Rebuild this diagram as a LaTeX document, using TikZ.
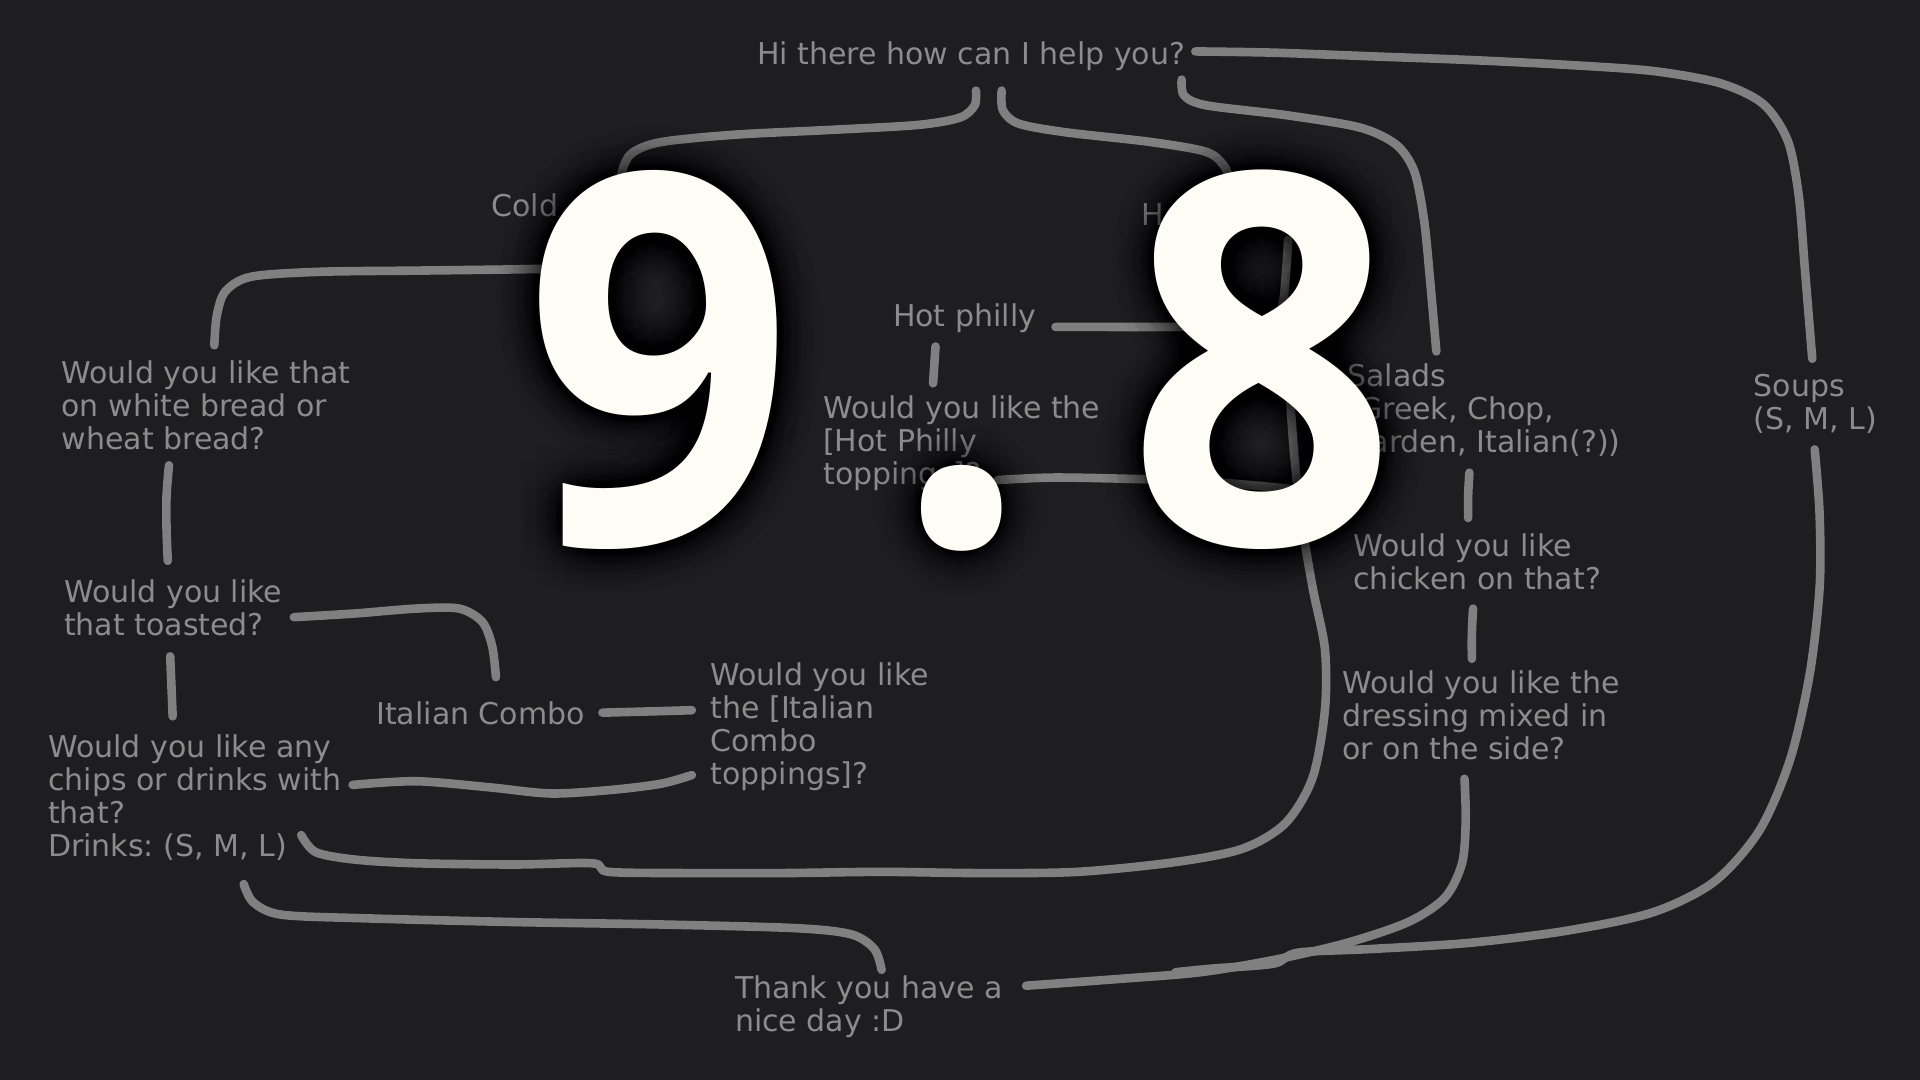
\documentclass[tikz,border=0pt]{standalone}
\usepackage{fontspec}
\setmainfont{DejaVu Sans}
\newfontfamily\digitfont{Open Sans}
\usetikzlibrary{calc}
\definecolor{boardbg}{RGB}{30,30,32}
\definecolor{chalkline}{RGB}{128,128,128}
\definecolor{chalktext}{RGB}{140,140,140}
\definecolor{scorewhite}{RGB}{253,253,245}
\frenchspacing

\begin{document}
\begin{tikzpicture}[
    x=0.6122pt, y=-0.6122pt,
    label node/.style={text=chalktext, font=\fontsize{15}{16.5}\selectfont, align=left, anchor=west, inner sep=0pt},
    stroke line/.style={draw=chalkline, line width=4.3pt, line cap=round, line join=round},
    score digit/.style={text=scorewhite, font=\digitfont\bfseries\fontsize{259}{259}\selectfont, anchor=base, inner sep=0pt},
    score shadow/.style={score digit, text=black, opacity=0.025}
]

%================CONFIGURATION================
\def\scorebase{445} % baseline of the big score
\def\scorenarrow{0.91} % horizontal squeeze of the score glyphs
\def\shadowstep{6}  % spacing of the shadow rings
%=============================================

% background
\fill[boardbg] (0,0) rectangle (1568,882);
\useasboundingbox (0,0) rectangle (1568,882);

% --- 1. Question nodes ---
\node[label node] (hello) at (618,46) {Hi there how can I help you?};
\node[label node] (cold) at (401,168) {Cold};
\node[label node] (hot) at (932,175) {H};
\node[label node] (philly) at (729,260) {Hot philly};
\node[label node] (phtop) at (672,362) {Would you like the\\{[}Hot Philly\\toppings]?};
\node[label node] (salads) at (1100,334.5) {Salads\\(Greek, Chop,\\Garden, Italian(?))};
\node[label node] (soups) at (1432,329.5) {Soups\\(S, M, L)};
\node[label node] (bread) at (50,331) {Would you like that\\on white bread or\\wheat bread?};
\node[label node] (toast) at (52,496.5) {Would you like\\that toasted?};
\node[label node] (chips) at (39,651.5) {Would you like any\\chips or drinks with\\that?\\Drinks: (S, M, L)};
\node[label node] (italian) at (307,582.5) {Italian Combo};
\node[label node] (ittop) at (580,593.5) {Would you like\\the {[}Italian\\Combo\\toppings]?};
\node[label node] (chicken) at (1105,458.5) {Would you like\\chicken on that?};
\node[label node] (dressing) at (1096,584) {Would you like the\\dressing mixed in\\or on the side?};
\node[label node] (thanks) at (600,822.5) {Thank you have a\\nice day :D};

% --- 2. Hand drawn strokes ---
% greeting to the four menus
\draw[stroke line] plot[smooth] coordinates {($(hello.east)+(8,-4)$) (1040,43) (1120,46) (1200,49) (1280,53) (1350,58) (1405,68) (1440,85) (1460,115) (1469,160) (1474,220) ($(soups.west)+(48,-36.5)$)};
\draw[stroke line] plot[smooth] coordinates {($(hello.west)+(347,19)$) (967,78) (985,86) (1050,94) (1110,104) (1140,118) (1155,140) (1163,180) (1168,230) ($(salads.west)+(73,-47.5)$)};
\draw[stroke line] plot[smooth] coordinates {($(hello.west)+(179,28)$) (796,86) (784,96) (750,102) (680,106) (600,110) (540,116) (516,125) (508,140) ($(cold.west)+(105,-8)$)};
\draw[stroke line] plot[smooth] coordinates {($(hello.west)+(200,28)$) (819,90) (832,101) (870,108) (940,116) (985,124) (1000,136) ($(hot.west)+(74,-23)$)};

% cold subs branch
\draw[stroke line] plot[smooth] coordinates {($(cold.west)+(69,51)$) (420,220) (340,221) (260,222) (205,226) (184,238) (177,258) ($(bread.west)+(125,-49)$)};
\draw[stroke line] plot[smooth] coordinates {($(bread.west)+(88,49)$) (136,405) (136,432) ($(toast.west)+(85,-38.5)$)};
\draw[stroke line] plot[smooth] coordinates {($(toast.west)+(188,7.5)$) (290,501) (340,497) (375,497) (394,508) (402,528) ($(italian.west)+(98,-29.5)$)};
\draw[stroke line] plot[smooth] coordinates {($(toast.west)+(87,39.5)$) (140,560) ($(chips.west)+(102,-66.5)$)};
\draw[stroke line] plot[smooth] coordinates {($(italian.west)+(185,-0.5)$) (530,581) ($(ittop.west)+(-15,-13.5)$)};
\draw[stroke line] plot[smooth] coordinates {($(chips.west)+(249,-10.5)$) (340,638) (400,643) (450,648) (500,645) (540,640) ($(ittop.west)+(-15,39.5)$)};

% hot subs branch
\draw[stroke line] plot[smooth] coordinates {($(hot.west)+(120,21)$) (1050,225) (1047,250) (1036,263) (1000,266) (950,267) (900,267) ($(philly.west)+(133,7)$)};
\draw[stroke line] plot[smooth] coordinates {($(philly.west)+(35,23)$) (763,298) ($(phtop.west)+(90,-49)$)};
\draw[stroke line] plot[smooth] coordinates {($(hot.west)+(120,125)$) (1056,360) (1062,420) (1072,480) (1082,530) (1082,580) (1072,635) (1050,672) (1015,693) (960,704) (880,712) (800,713) (720,712) (640,713) (560,713) (497,712) (484,705) (420,706) (340,705) (290,702) (258,696) ($(chips.west)+(207,30.5)$)};
\draw[stroke line] plot[smooth] coordinates {($(phtop.west)+(143,30)$) (860,390) (920,391) (980,393) (1030,397) ($(hot.west)+(128,225)$)};

% salads and soups
\draw[stroke line] plot[smooth] coordinates {($(salads.west)+(100,51.5)$) (1199,404) ($(chicken.west)+(94,-35.5)$)};
\draw[stroke line] plot[smooth] coordinates {($(chicken.west)+(98,38.5)$) (1202,517) ($(dressing.west)+(106,-46)$)};
\draw[stroke line] plot[smooth] coordinates {($(dressing.west)+(100,52)$) (1197,670) (1194,705) (1180,733) (1150,753) (1100,770) (1040,784) (980,794) (920,799) ($(thanks.west)+(238,-17.5)$)};
\draw[stroke line] plot[smooth] coordinates {($(soups.west)+(50,37.5)$) (1486,420) (1486,480) (1478,550) (1462,620) (1437,678) (1400,720) (1350,745) (1280,760) (1200,770) (1120,775) (1060,778) (1040,787) (990,791) ($(thanks.west)+(360,-28.5)$)};
\draw[stroke line] plot[smooth] coordinates {($(chips.west)+(160,70.5)$) (207,737) (230,747) (300,750) (420,753) (540,755) (650,758) (695,763) (714,775) ($(thanks.west)+(120,-30.5)$)};

% --- 3. Big score on top ---
% soft shadow first
\foreach \ch/\cx in {9/538, ./785, 8/1031} {
    \foreach \r in {1,...,6} {
        \foreach \a in {0,30,...,330} {
            \node[score shadow] at ({\cx+\r*\shadowstep*cos(\a+15*\r)}, {\scorebase+\r*\shadowstep*sin(\a+15*\r)}) {\scalebox{\scorenarrow}[1]{\ch}};
        }
    }
}
\foreach \ch/\cx [count=\k] in {9/538, ./785, 8/1031} {
    \node[score digit] (score\k) at (\cx,\scorebase) {\scalebox{\scorenarrow}[1]{\ch}};
}

\end{tikzpicture}
\end{document}
